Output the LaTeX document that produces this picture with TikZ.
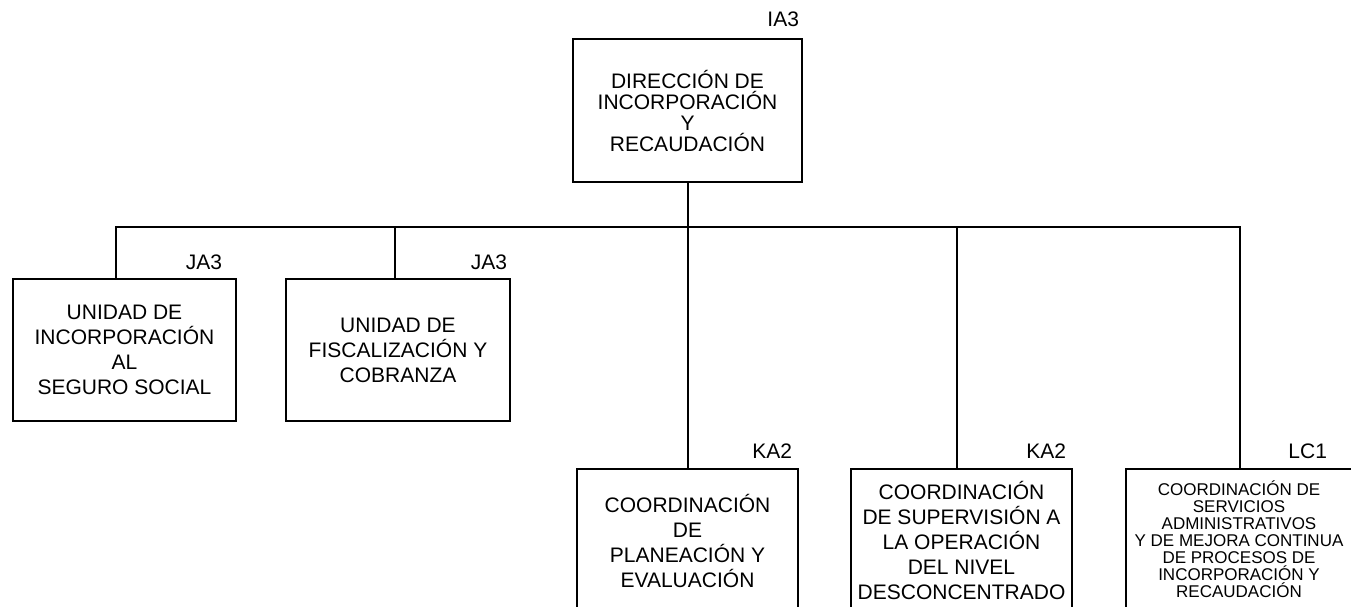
\documentclass[tikz,border=0pt]{standalone}
\usepackage{fontspec}
\setmainfont{Liberation Sans}
\usetikzlibrary{positioning}
\newcommand{\boxFont}[0]{\fontsize{21}{25}\selectfont}
\newcommand{\smallBoxFont}[0]{\fontsize{17}{17}\selectfont}

\begin{document}
\begin{tikzpicture}[x=1pt, y=-1pt, line width=2pt]
  \tikzset{unit/.style={draw, align=center, inner sep=0pt, anchor=north, font=\boxFont},
           grade/.style={anchor=east, inner sep=0pt, font=\fontsize{21}{21}\selectfont}}
  \useasboundingbox (0,0) rectangle (1351,607);
  \clip (0,0) rectangle (1351,607);
  \node[unit, minimum width=229pt, minimum height=143pt, font=\fontsize{21}{21}\selectfont]
    (dir) at (687.5,38) {DIRECCIÓN DE\\INCORPORACIÓN\\Y\\RECAUDACIÓN};
  \node[unit, minimum width=223pt, minimum height=142pt]
    (unit-inc) at (124.5,278) {UNIDAD DE\\INCORPORACIÓN\\AL\\SEGURO SOCIAL};
  \node[unit, minimum width=224pt, minimum height=142pt]
    (unit-fis) at (398,278) {UNIDAD DE\\FISCALIZACIÓN Y\\COBRANZA};
  \node[unit, minimum width=221pt, minimum height=144pt]
    (coord-plan) at (687.5,468) {COORDINACIÓN\\DE\\PLANEACIÓN Y\\EVALUACIÓN};
  \node[unit, minimum width=221pt, minimum height=142pt]
    (coord-sup) at (961.5,468) {COORDINACIÓN\\DE SUPERVISIÓN A\\LA OPERACIÓN\\DEL NIVEL\\DESCONCENTRADO};
  \node[unit, minimum width=226pt, minimum height=140pt, font=\smallBoxFont]
    (coord-adm) at (1239,468) {COORDINACIÓN DE\\SERVICIOS\\ADMINISTRATIVOS\\Y DE MEJORA CONTINUA\\DE PROCESOS DE\\INCORPORACIÓN Y\\RECAUDACIÓN};
  % grades
  \node[grade] (dir-grade) at (800,19) {IA3};
  \node[grade] (unit-inc-grade) at (223,262) {JA3};
  \node[grade] (unit-fis-grade) at (508,262) {JA3};
  \node[grade] (coord-plan-grade) at (793,451) {KA2};
  \node[grade] (coord-sup-grade) at (1067,451) {KA2};
  \node[grade] (coord-adm-grade) at (1328,451) {LC1};
  % bus
  \coordinate (bus-l) at (116,227);
  \coordinate (bus-r) at (1240,227);
  \coordinate (drop-fis) at (395,227);
  \coordinate (drop-sup) at (957,227);
  \draw (dir.south) -- (coord-plan.north);
  \draw (bus-l |- unit-inc.north) |- (bus-r) -- (bus-r |- coord-adm.north);
  \draw (drop-fis) -- (drop-fis |- unit-fis.north);
  \draw (drop-sup) -- (drop-sup |- coord-sup.north);
\end{tikzpicture}
\end{document}
